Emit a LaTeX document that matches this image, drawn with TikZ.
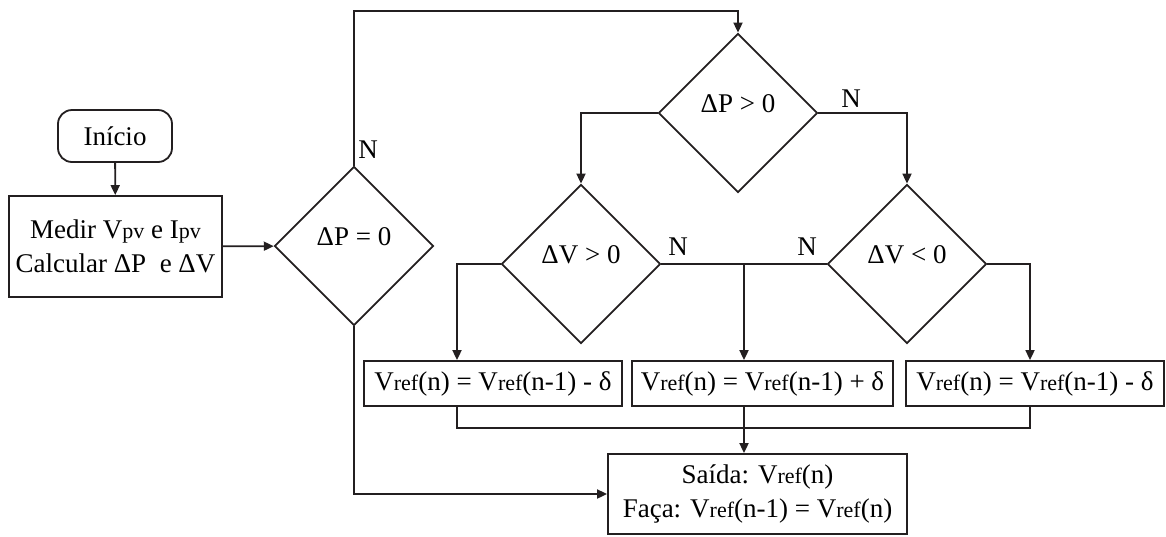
\documentclass[tikz,border=0pt]{standalone}
\usepackage{fontspec}
\setmainfont{Liberation Serif}
\usepackage{tikz}
\usetikzlibrary{shapes.geometric}
\usetikzlibrary{arrows.meta}
\definecolor{traco}{RGB}{35,31,32}
\newcommand{\miudo}[1]{{\fontsize{11}{13}\selectfont #1}}
\tikzset{
    caixa/.style={draw=traco, line width=0.9pt, rectangle, inner sep=0pt, align=center},
    terminal/.style={caixa, rounded corners=7pt},
    decisao/.style={draw=traco, line width=0.9pt, diamond, aspect=1, inner sep=0pt,
        minimum width=79.5pt, minimum height=79.5pt, text height=9pt, text depth=10pt},
    rotulo/.style={inner sep=0pt}
}
\begin{document}
\begin{tikzpicture}[x=0.5pt, y=-0.5pt, line width=0.9pt, draw=traco, >={Triangle[length=5pt,width=4.5pt]},
        font=\fontsize{13.5}{17}\selectfont]
	\useasboundingbox (0,0) rectangle (1166,536);
	% inicio e medidas
	\node[terminal, minimum width=57pt, minimum height=26pt] (inicio) at (115,136) {Início};
	\node[caixa, minimum width=106.5pt, minimum height=50.5pt] (medir) at (115.5,246.5)
		{Medir V\miudo{pv} e I\miudo{pv}\\Calcular ΔP\ \ e ΔV};
	% decisoes
	\node[decisao] (dPzero) at (354,246) {ΔP = 0};
	\node[decisao] (dPpos) at (738,113) {ΔP > 0};
	\node[decisao] (dVpos) at (581,264) {ΔV > 0};
	\node[decisao] (dVneg) at (907,264) {ΔV < 0};
	% atualizacao de Vref
	\node[caixa, minimum width=129pt, minimum height=22.5pt] (vMenos) at (493,383.5)
		{V\miudo{ref}(n) = V\miudo{ref}(n-1) - δ};
	\node[caixa, minimum width=130.5pt, minimum height=22.5pt] (vMais) at (762.5,383.5)
		{V\miudo{ref}(n) = V\miudo{ref}(n-1) + δ};
	\node[caixa, minimum width=129pt, minimum height=22.5pt] (vMenosB) at (1035,383.5)
		{V\miudo{ref}(n) = V\miudo{ref}(n-1) - δ};
	\node[caixa, minimum width=149.5pt, minimum height=40pt] (saida) at (757.5,494)
		{Saída: V\miudo{ref}(n)\\Faça: V\miudo{ref}(n-1) = V\miudo{ref}(n)};
	% pontos de apoio
	\coordinate (topo) at (550,11);
	\coordinate (xEsq) at (457,0);
	\coordinate (xDir) at (1030,0);
	\coordinate (meio) at (744,264);
	\coordinate (junta) at (744,428);
	% ligacoes
	\draw[->] (inicio) -- (medir);
	\draw[->] (medir) -- (dPzero);
	\draw[->] (dPzero.north) |- (topo) -| (dPpos.north);
	\draw[->] (dPzero.south) |- (saida.west);
	\draw[->] (dPpos.west) -| (dVpos.north);
	\draw[->] (dPpos.east) -| (dVneg.north);
	\draw (dVpos.east) -- (dVneg.west);
	\draw[->] (dVpos.west) -| (vMenos.north -| xEsq);
	\draw[->] (meio) -- (vMais.north -| meio);
	\draw[->] (dVneg.east) -| (vMenosB.north -| xDir);
	\draw (vMenos.south -| xEsq) |- (junta) -| (vMenosB.south -| xDir);
	\draw (vMais.south -| meio) -- (junta);
	\draw[->] (junta) -- (saida.north -| junta);
	% rotulos N
	\node[rotulo] (nA) at (368,150) {N};
	\node[rotulo] (nB) at (851,99) {N};
	\node[rotulo] (nC) at (678,247) {N};
	\node[rotulo] (nD) at (807,247) {N};
\end{tikzpicture}
\end{document}
